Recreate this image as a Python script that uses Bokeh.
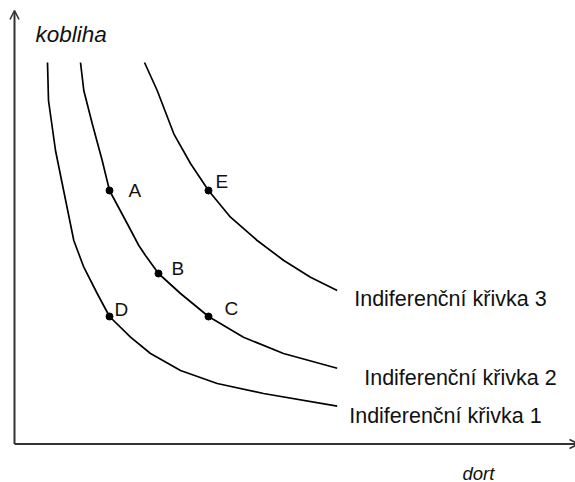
from bokeh.plotting import figure
from bokeh.models import ColumnDataSource, Range1d, Arrow, OpenHead
from bokeh.core.properties import value
from bokeh.embed import file_html
from bokeh.resources import INLINE

# ---- data (units: dort on x, kobliha on y) ----
curve1_x = [3.3, 3.4, 4.1, 4.77, 5.93, 6.93, 8.27, 9.5, 11.6, 13.6, 16.6, 20.27, 24.9, 32.27]
curve1_y = [38.15, 34.35, 29.35, 26.05, 20.35, 17.68, 15.05, 12.75, 10.68, 9.05, 7.35, 6.05, 5.05, 3.78]

curve2_x = [6.6, 6.93, 7.77, 8.77, 9.5, 11.27, 12.43, 13.1, 14.4, 16.6, 19.4, 22.9, 26.9, 32.27]
curve2_y = [38.15, 35.35, 32.05, 28.35, 25.35, 22.05, 19.85, 18.85, 17.05, 15.05, 12.75, 10.68, 9.05, 7.58]

curve3_x = [13.0, 14.27, 15.93, 17.6, 19.4, 21.6, 24.27, 26.93, 29.6, 32.27]
curve3_y = [38.15, 35.35, 31.02, 28.05, 25.35, 22.68, 20.35, 18.35, 16.68, 15.35]

point_names = ["A", "B", "C", "D", "E"]
point_x = [9.5, 14.4, 19.4, 9.5, 19.4]
point_y = [25.35, 17.05, 12.75, 12.75, 25.35]

curve_names = ["Indiferenční křivka 1", "Indiferenční křivka 2", "Indiferenční křivka 3"]
x_label = "dort"
y_label = "kobliha"

axis_x_max = 56.4
axis_y_max = 43.35

# ---- figure ----
p = figure(width=575, height=482, output_backend="svg", toolbar_location=None,
           x_range=Range1d(-1.4, 56.1), y_range=Range1d(-3.85, 44.35),
           x_axis_location=None, y_axis_location=None, min_border=0,
           background_fill_color="white", border_fill_color="white")
p.outline_line_color = None
p.xgrid.visible = False
p.ygrid.visible = False

axis_color = "#333333"
p.add_layout(Arrow(end=OpenHead(size=9, line_width=1.6, line_color=axis_color),
                   x_start=0, y_start=0, x_end=0, y_end=axis_y_max,
                   line_width=2, line_color=axis_color))
p.add_layout(Arrow(end=OpenHead(size=9, line_width=1.6, line_color=axis_color),
                   x_start=0, y_start=0, x_end=axis_x_max, y_end=0,
                   line_width=2, line_color=axis_color))

curves = [(curve1_x, curve1_y), (curve2_x, curve2_y), (curve3_x, curve3_y)]
for cx, cy in curves:
    p.line(cx, cy, line_color="black", line_width=1.7)

p.scatter(point_x, point_y, size=7, color="black")

font = value("Liberation Sans")
pt_src = ColumnDataSource(dict(x=point_x, y=point_y, t=point_names,
                               xo=[19, 13, 16, 5, 7], yo=[0, -5, -8, -7, -9]))
p.text("x", "y", text="t", source=pt_src, x_offset="xo", y_offset="yo",
       text_font=font, text_font_size="19px", text_color="#111111",
       text_align="left", text_baseline="alphabetic")

cl_src = ColumnDataSource(dict(x=[c[0][-1] for c in curves], y=[c[1][-1] for c in curves],
                               t=curve_names, xo=[12, 27, 17], yo=[10, 10, 8]))
p.text("x", "y", text="t", source=cl_src, x_offset="xo", y_offset="yo",
       text_font=font, text_font_size="21.5px", text_color="#111111",
       text_align="left", text_baseline="alphabetic")

p.text([0], [axis_y_max], text=[y_label], x_offset=21, y_offset=24,
       text_font=font, text_font_size="22.5px", text_font_style="italic",
       text_color="#111111", text_align="left", text_baseline="alphabetic")
p.text([0], [0], text=[x_label], x_offset=448, y_offset=29,
       text_font=font, text_font_size="18.5px", text_font_style="italic",
       text_color="#111111", text_align="left", text_baseline="alphabetic")

open("out.html", "w").write(file_html(p, INLINE))
